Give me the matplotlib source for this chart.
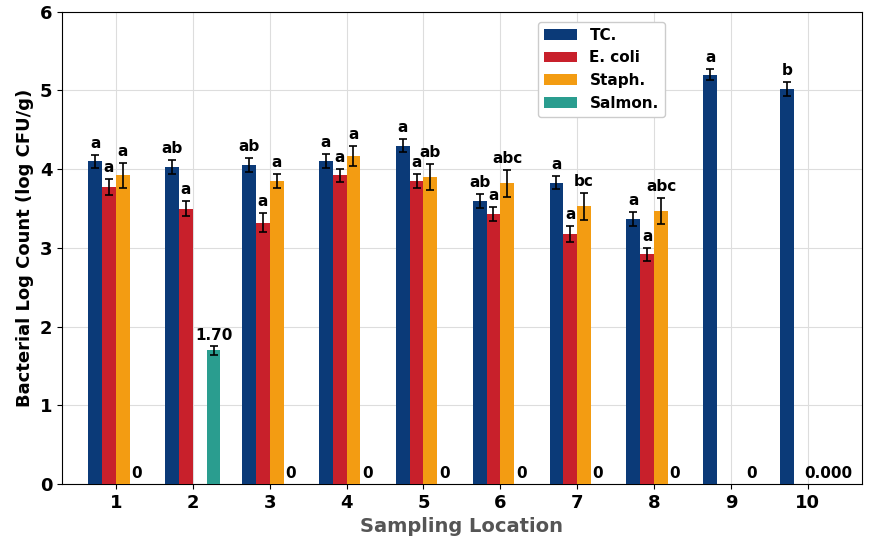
import matplotlib
matplotlib.use("Agg")
import matplotlib.pyplot as plt
import numpy as np

locations = ["1","2","3","4","5","6","7","8","9","10"]
tc = [4.10, 4.03, 4.05, 4.10, 4.30, 3.60, 3.83, 3.37, 5.20, 5.02]
tc_err = [0.08, 0.09, 0.09, 0.09, 0.08, 0.09, 0.08, 0.09, 0.07, 0.09]
ecoli = [3.77, 3.50, 3.32, 3.92, 3.85, 3.43, 3.18, 2.92, np.nan, np.nan]
ecoli_err = [0.10, 0.10, 0.12, 0.08, 0.09, 0.09, 0.10, 0.08, 0, 0]
staph = [3.92, np.nan, 3.85, 4.17, 3.90, 3.82, 3.53, 3.47, np.nan, np.nan]
staph_err = [0.16, 0, 0.09, 0.13, 0.17, 0.17, 0.17, 0.16, 0, 0]
salmon = [0, 1.70, 0, 0, 0, 0, 0, 0, 0, 0]
salmon_err = [0, 0.06, 0, 0, 0, 0, 0, 0, 0, 0]
tc_letters = ["a","ab","ab","a","a","ab","a","a","a","b"]
ecoli_letters = ["a","a","a","a","a","a","a","a","",""]
staph_letters = ["a","","a","a","ab","abc","bc","abc","",""]

colors = ["#0b3a78", "#c8202b", "#f39c12", "#2a9d8f"]
fig = plt.figure(figsize=(8.74, 5.59), dpi=100)
ax = fig.add_axes([0.071, 0.134, 0.915, 0.845])
x = np.arange(1, 11)
w = 0.18
offs = [-1.5*w, -0.5*w, 0.5*w, 1.5*w]
series = [(tc, tc_err, "TC."), (ecoli, ecoli_err, "E. coli"), (staph, staph_err, "Staph."), (salmon, salmon_err, "Salmon.")]
ek = dict(ecolor="black", capsize=3, elinewidth=1.2, capthick=1.2)
for (vals, errs, lab), off, c in zip(series, offs, colors):
    v = np.array(vals, dtype=float)
    e = np.array(errs, dtype=float)
    mask = ~np.isnan(v) & (v > 0)
    ax.bar(x + off, np.nan_to_num(v), w, color=c, edgecolor="none", label=lab, zorder=3)
    ax.errorbar((x + off)[mask], v[mask], yerr=e[mask], fmt="none", zorder=4, **ek)

def letters(vals, errs, labs, off):
    for xi, v, e, l in zip(x, vals, errs, labs):
        if l and not np.isnan(v):
            ax.text(xi + off, v + e + 0.05, l, ha="center", va="bottom", fontsize=11, fontweight="bold")
letters(tc, tc_err, tc_letters, offs[0])
letters(ecoli, ecoli_err, ecoli_letters, offs[1])
letters(staph, staph_err, staph_letters, offs[2])
for xi, v, e in zip(x, salmon, salmon_err):
    if v > 0:
        ax.text(xi + offs[3], v + e + 0.03, f"{v:.2f}", ha="center", va="bottom", fontsize=11, fontweight="bold")
    elif xi < 10:
        ax.text(xi + offs[3], 0.04, "0", ha="center", va="bottom", fontsize=11, fontweight="bold")
ax.text(10 + offs[3], 0.04, "0.000", ha="center", va="bottom", fontsize=11, fontweight="bold")

ax.set_xlim(0.3, 10.7)
ax.set_ylim(0, 6)
ax.set_xticks(x)
ax.set_xticklabels(locations, fontsize=13, fontweight="bold")
ax.tick_params(axis="y", labelsize=13)
for t in ax.get_yticklabels():
    t.set_fontweight("bold")
ax.grid(True, color="#dddddd", zorder=0)
ax.set_axisbelow(True)
ax.set_xlabel("Sampling Location", fontsize=14, fontweight="bold", color="#555555")
ax.set_ylabel("Bacterial Log Count (log CFU/g)", fontsize=13, fontweight="bold")
ax.legend(loc="upper left", bbox_to_anchor=(0.585, 0.995), prop={"size": 11, "weight": "bold"},
          handlelength=2.2, frameon=True, framealpha=1, edgecolor="#cccccc")
fig.savefig("out.png", dpi=100)
